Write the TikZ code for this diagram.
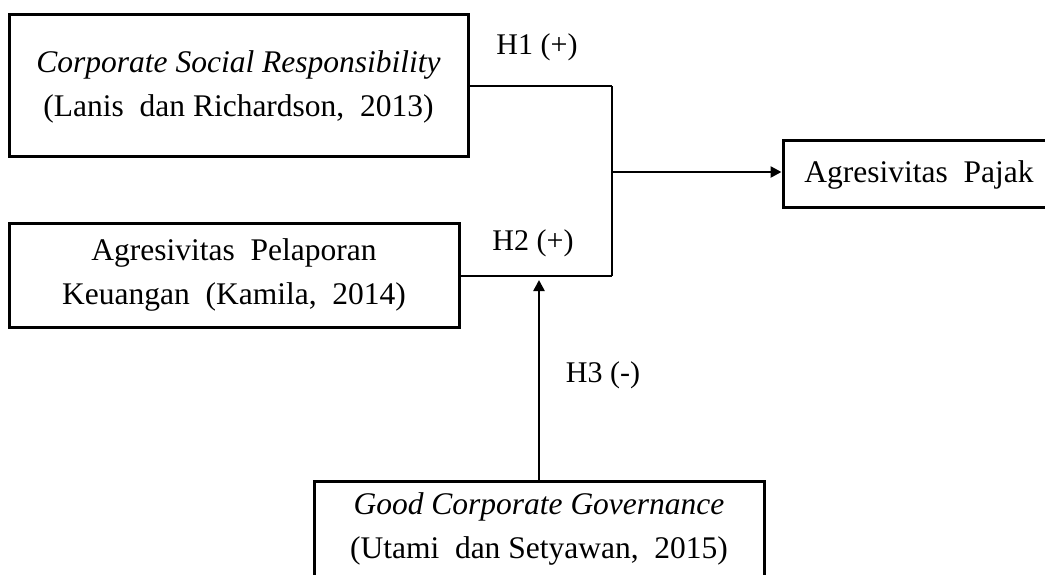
\documentclass[tikz,border=0pt]{standalone}
\usepackage{fontspec}
\setmainfont{Liberation Serif}
\usetikzlibrary{arrows.meta}
\newcommand\widesp{\hspace{0.5em}}
\tikzset{
  box/.style={draw=black, line width=3pt, rectangle, inner sep=0pt},
  txt/.style={inner sep=0pt, align=center, font=\fontsize{31.5}{44}\selectfont},
  lbl/.style={inner sep=0pt, font=\fontsize{30}{35}\selectfont},
  conn/.style={draw=black, line width=2.5pt},
  arr/.style={conn, -{Triangle[length=11pt,width=11pt]}}
}
\begin{document}
\begin{tikzpicture}[x=1pt,y=-1pt]
\useasboundingbox (0,0) rectangle (1045,574);
\clip (0,0) rectangle (1045,574);
% boxes
\node[box, minimum width=459pt, minimum height=142pt] (csr) at (238.5,85) {};
\node[txt] (csrt) at (238.5,87) {\textit{Corporate Social Responsibility}\\(Lanis\widesp dan Richardson,\widesp 2013)};
\node[box, minimum width=450pt, minimum height=104pt] (pel) at (234,275) {};
\node[txt] (pelt) at (234,275) {Agresivitas\widesp Pelaporan\\Keuangan\widesp (Kamila,\widesp 2014)};
\node[box, minimum width=272pt, minimum height=67pt] (paj) at (919,173.5) {};
\node[txt] (pajt) at (919,175) {Agresivitas\widesp Pajak};
\node[box, minimum width=450pt, minimum height=150pt] (gcg) at (539,556) {};
\node[txt] (gcgt) at (539,529) {\textit{Good Corporate Governance}\\(Utami\widesp dan Setyawan,\widesp 2015)};
% labels
\node[lbl] (h1) at (537,47) {H1 (+)};
\node[lbl] (h2) at (533,243) {H2 (+)};
\node[lbl] (h3) at (603,375) {H3 (-)};
% junction coordinates
\coordinate (j1) at (612,86);
\coordinate (j2) at (612,276);
\coordinate (jm) at (612,172);
\coordinate (h3t) at (539,280);
% connectors
\draw[conn] (csr.east |- j1) -- (j1);
\draw[conn] (j1) -- (j2);
\draw[conn] (pel.east |- j2) -- (j2);
\draw[arr] (jm) -- (paj.west |- jm);
\draw[arr] (gcg.north) -- (h3t);
\end{tikzpicture}
\end{document}
